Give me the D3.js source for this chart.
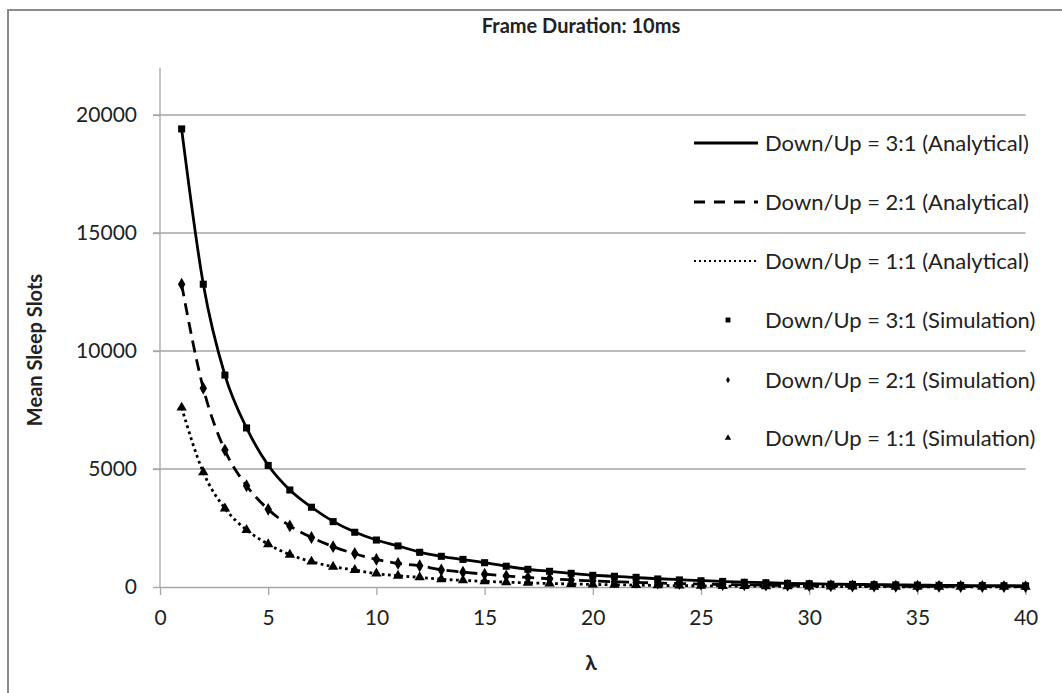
<!DOCTYPE html>
<html lang="en">
<head>
<meta charset="utf-8">
<script src="https://d3js.org/d3.v7.min.js"></script>
<style>
  body { margin: 0; background: #fff; }
  text { font-family: Lato, "Open Sans", sans-serif; fill: #222; }
</style>
</head>
<body>
<svg width="1062" height="693"></svg>
<script>

var lambdas = d3.range(1, 41);

// analytical curves
var ana31 = [19400, 12840, 8980, 6740, 5160, 4110, 3380, 2780, 2330, 1990,
  1740, 1480, 1300, 1160, 1030, 880, 750, 665, 580, 500,
  450, 400, 350, 310, 270, 235, 205, 180, 155, 138,
  120, 110, 100, 90, 80, 72, 65, 60, 55, 50];
var ana21 = [12820, 8420, 5790, 4290, 3290, 2590, 2100, 1710, 1410, 1170,
  1000, 900, 730, 630, 545, 470, 405, 350, 300, 260,
  225, 195, 168, 145, 125, 108, 93, 80, 69, 60,
  52, 45, 39, 34, 29, 25, 22, 19, 16, 14];
var ana11 = [7600, 4860, 3330, 2420, 1815, 1370, 1075, 860, 720, 565,
  475, 410, 330, 280, 240, 205, 175, 150, 128, 110,
  94, 80, 68, 58, 50, 43, 37, 31, 27, 23,
  20, 17, 14, 12, 10, 9, 8, 7, 6, 5];

// simulation points
var sim31 = [19410, 12830, 8980, 6740, 5150, 4110, 3380, 2770, 2320, 1990,
  1740, 1470, 1300, 1170, 1030, 880, 750, 665, 580, 495,
  455, 410, 340, 300, 265, 235, 200, 180, 155, 140,
  115, 110, 100, 90, 78, 72, 65, 60, 55, 50];
var sim21 = [12830, 8420, 5800, 4290, 3290, 2590, 2100, 1710, 1420, 1170,
  1000, 900, 720, 630, 545, 470, 405, 350, 300, 260,
  225, 195, 168, 145, 125, 108, 93, 80, 69, 60,
  52, 45, 39, 34, 29, 25, 22, 19, 16, 14];
var sim11 = [7600, 4860, 3330, 2415, 1815, 1370, 1075, 860, 720, 570,
  475, 410, 330, 280, 240, 205, 175, 150, 128, 110,
  94, 80, 68, 58, 50, 43, 37, 31, 27, 23,
  20, 17, 14, 12, 10, 9, 8, 7, 6, 5];

var xTicks = [0, 5, 10, 15, 20, 25, 30, 35, 40];
var yTicks = [0, 5000, 10000, 15000, 20000];

var svg = d3.select("svg");

// chart frame (only top / left edges fall inside the picture)
svg.append("rect")
  .attr("x", 8).attr("y", 10)
  .attr("width", 1200).attr("height", 900)
  .attr("fill", "none")
  .attr("stroke", "#8c8c8c")
  .attr("stroke-width", 2);

var x = d3.scaleLinear().domain([0, 40]).range([160, 1025.6]);
var y = d3.scaleLinear().domain([0, 22000]).range([587, 67.8]);

var g = svg.append("g");

// gridlines
g.selectAll(".grid")
  .data(yTicks.filter(function (d) { return d > 0; }))
  .enter().append("line")
  .attr("x1", 153).attr("x2", x(40))
  .attr("y1", function (d) { return y(d); })
  .attr("y2", function (d) { return y(d); })
  .attr("stroke", "#a6a6a6")
  .attr("stroke-width", 1.3);

// y axis
var yAxis = g.append("g")
  .attr("transform", "translate(" + x(0) + ",0)")
  .call(d3.axisLeft(y).tickValues(yTicks).tickSize(7).tickPadding(16).tickFormat(d3.format("d")));
yAxis.select(".domain").attr("d", "M0," + y(0) + "V" + y(22000));

// x axis
var xAxis = g.append("g")
  .attr("transform", "translate(0," + y(0) + ")")
  .call(d3.axisBottom(x).tickValues(xTicks).tickSize(8).tickSizeOuter(0).tickPadding(15));

[yAxis, xAxis].forEach(function (a) {
  a.selectAll(".domain, line").attr("stroke", "#a6a6a6").attr("stroke-width", 1.3);
  a.selectAll("text").style("font-size", "21px").attr("fill", "#222");
});

// analytical lines
var line = d3.line()
  .x(function (d, i) { return x(lambdas[i]); })
  .y(function (d) { return y(d); })
  .curve(d3.curveMonotoneX);

var lineSeries = [
  { name: "Down/Up = 3:1 (Analytical)", values: ana31, dash: null },
  { name: "Down/Up = 2:1 (Analytical)", values: ana21, dash: "12,7" },
  { name: "Down/Up = 1:1 (Analytical)", values: ana11, dash: "2.8,3.4" }
];

g.selectAll(".ana")
  .data(lineSeries)
  .enter().append("path")
  .attr("class", "ana")
  .attr("d", function (d) { return line(d.values); })
  .attr("fill", "none")
  .attr("stroke", "#000")
  .attr("stroke-width", 2.8)
  .attr("stroke-dasharray", function (d) { return d.dash; });

// simulation markers
var pointSeries = [
  { name: "Down/Up = 3:1 (Simulation)", values: sim31, shape: d3.symbolSquare, size: 50, legendSize: 24 },
  { name: "Down/Up = 2:1 (Simulation)", values: sim21, shape: d3.symbolDiamond, size: 48, legendSize: 12 },
  { name: "Down/Up = 1:1 (Simulation)", values: sim11, shape: d3.symbolTriangle, size: 46, legendSize: 18 }
];

pointSeries.forEach(function (s) {
  g.selectAll(null)
    .data(s.values)
    .enter().append("path")
    .attr("d", d3.symbol().type(s.shape).size(s.size))
    .attr("transform", function (d, i) {
      return "translate(" + x(lambdas[i]) + "," + y(d) + ")";
    })
    .attr("fill", "#000");
});

// legend
var legendY = [143, 202, 261, 320, 380, 438];
var lg = svg.append("g");

lineSeries.forEach(function (s, i) {
  lg.append("line")
    .attr("x1", 694).attr("x2", 758)
    .attr("y1", legendY[i]).attr("y2", legendY[i])
    .attr("stroke", "#000")
    .attr("stroke-width", i == 2 ? 2 : 2.8)
    .attr("stroke-dasharray", i == 1 ? "11,9" : (i == 2 ? "2,3" : null));
  lg.append("text")
    .attr("x", 765).attr("y", legendY[i])
    .attr("dy", "0.35em")
    .style("font-size", "22px")
    .text(s.name);
});

pointSeries.forEach(function (s, i) {
  lg.append("path")
    .attr("d", d3.symbol().type(s.shape).size(s.legendSize))
    .attr("transform", "translate(728," + legendY[i + 3] + ")")
    .attr("fill", "#000");
  lg.append("text")
    .attr("x", 765).attr("y", legendY[i + 3])
    .attr("dy", "0.35em")
    .style("font-size", "22px")
    .text(s.name);
});

// titles
svg.append("text")
  .attr("x", 581).attr("y", 26)
  .attr("dy", "0.35em")
  .attr("text-anchor", "middle")
  .style("font-size", "20px")
  .style("font-weight", "bold")
  .text("Frame Duration: 10ms");

svg.append("text")
  .attr("transform", "translate(35,350) rotate(-90)")
  .attr("dy", "0.35em")
  .attr("text-anchor", "middle")
  .style("font-size", "20px")
  .style("font-weight", "bold")
  .text("Mean Sleep Slots");

svg.append("text")
  .attr("x", 591).attr("y", 663)
  .attr("dy", "0.35em")
  .attr("text-anchor", "middle")
  .style("font-size", "21px")
  .style("font-weight", "bold")
  .text("λ");

</script>
</body>
</html>
